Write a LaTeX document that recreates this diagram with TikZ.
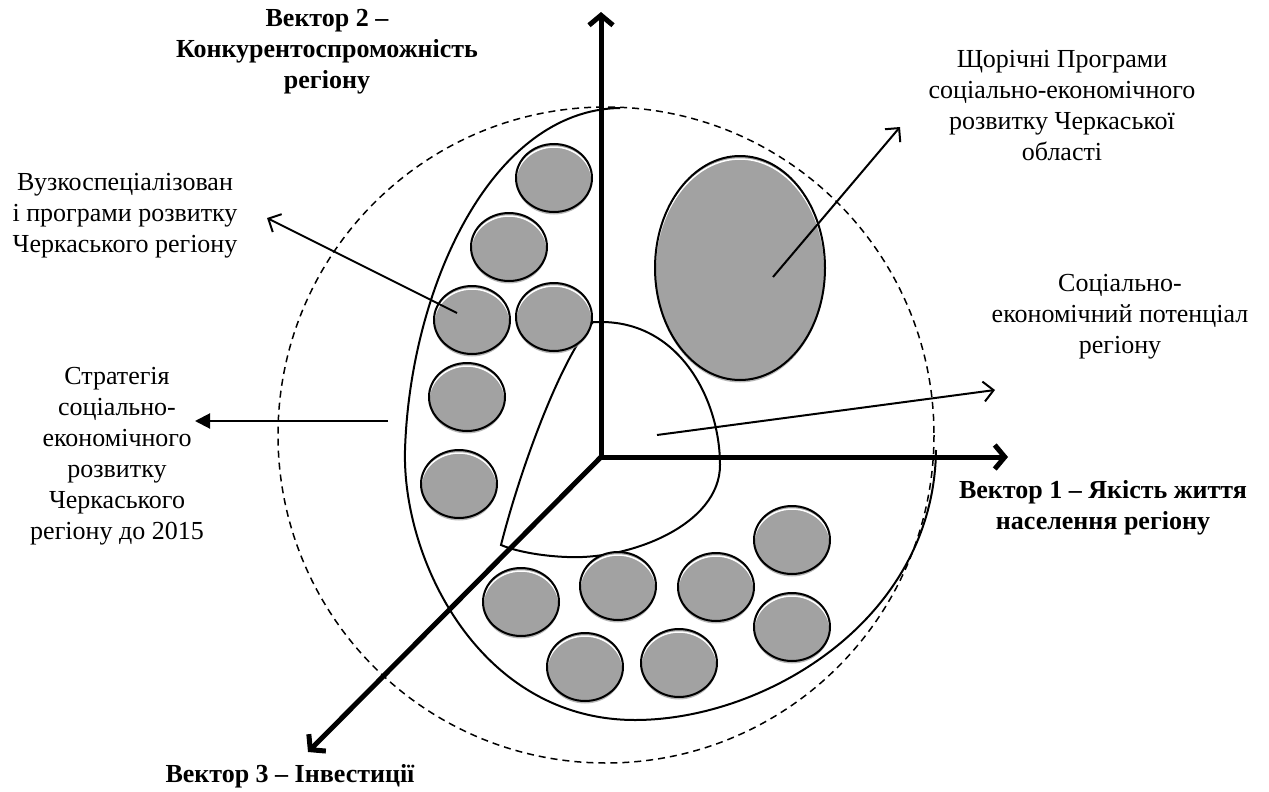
\documentclass[tikz,border=0pt]{standalone}
\usepackage{fontspec}
\setmainfont{Liberation Serif}
\usetikzlibrary{shapes.geometric}
\usetikzlibrary{arrows.meta}
\usetikzlibrary{shadows}
\definecolor{bubblegray}{RGB}{162,162,162}

\begin{document}
\begin{tikzpicture}[x=1pt,y=-1pt,
        bubble/.style 2 args={ellipse,draw,line width=2pt,fill=bubblegray,
            minimum width=#1,minimum height=#2,inner sep=0pt,
            drop shadow={shadow xshift=0pt,shadow yshift=-2.5pt,fill=black!40,opacity=0.7},
            path picture={\draw[white,line width=1.5pt]
                ([yshift=-3pt]path picture bounding box.center)
                ellipse [x radius=#1/2,y radius=#2/2];}},
        axis/.style={line width=5pt,line cap=rect,-{Straight Barb[length=10pt,width=24pt]}},
        ptr/.style={line width=2pt,-{Straight Barb[length=10pt,width=20pt]}},
        fptr/.style={line width=2pt,-{Triangle[length=15pt,width=15pt]}},
        lbl/.style={align=center,font=\fontsize{26}{31}\selectfont},
        vlbl/.style={lbl,font=\fontsize{26}{31}\selectfont\bfseries}]
        %   \draw [help lines] (0,0) grid (1269,792);
        \useasboundingbox (0,0) rectangle (1269,792);

        \draw [line width=1.5pt,dash pattern=on 7pt off 5pt] (606,435) circle [radius=328];

        \draw [line width=2pt] (620,108) .. controls (490,110) and (410,290) .. (405,450)
            .. controls (402,560) and (480,720) .. (635,720)
            .. controls (765,720) and (934,620) .. (936,450);

        \draw [line width=2pt] (501,545) .. controls (520,470) and (560,360) .. (593,322) -- (601,322)
            .. controls (680,322) and (720,400) .. (720,465)
            .. controls (720,525) and (630,560) .. (567,557)
            .. controls (540,556) and (515,551) .. (501,545) -- cycle;

        \foreach \n/\x/\y in {1/554/178,2/509/247,3/472/320,4/554/317,5/467/397,6/459/484,
            7/521/602,8/618/586,9/716/587,10/792/540,11/792/627,12/585/667,13/679/663}
        {
            \node [bubble={76pt}{68pt}] (c\n) at (\x,\y) {};
        }
        \node [bubble={170pt}{224pt}] (big) at (740,268) {};

        \coordinate (O) at (601,457);
        \coordinate (vec1) at (1008,457);
        \coordinate (vec2) at (601,12);
        \coordinate (vec3) at (308,752);
        \draw [axis] (O) -- (vec1);
        \draw [axis] (O) -- (vec2);
        \draw [axis] (O) -- (vec3);

        \coordinate (s1) at (773,277);
        \coordinate (e1) at (900,127);
        \coordinate (s2) at (657,435);
        \coordinate (e2) at (995,390);
        \coordinate (s3) at (457,313);
        \coordinate (e3) at (267,218);
        \coordinate (s4) at (388,421);
        \coordinate (e4) at (195,421);
        \draw [ptr] (s1) -- (e1);
        \draw [ptr] (s2) -- (e2);
        \draw [ptr] (s3) -- (e3);
        \draw [fptr] (s4) -- (e4);

        \node [vlbl] (vec2lbl) at (327,52) {Вектор 2 –\\Конкурентоспроможність\\регіону};
        \node [lbl] (annual) at (1062,106) {Щорічні Програми\\соціально-економічного\\розвитку Черкаської\\області};
        \node [lbl] (potential) at (1120,317) {Соціально-\\економічний потенціал\\регіону};
        \node [lbl] (narrow) at (125,216) {Вузкоспеціалізован\\і програми розвитку\\Черкаського регіону};
        \node [lbl] (strategy) at (117,456) {Стратегія\\соціально-\\економічного\\розвитку\\Черкаського\\регіону до 2015};
        \node [vlbl] (vec1lbl) at (1103,508) {Вектор 1 – Якість життя\\населення регіону};
        \node [vlbl] (vec3lbl) at (290,776) {Вектор 3 – Інвестиції};
\end{tikzpicture}
\end{document}
